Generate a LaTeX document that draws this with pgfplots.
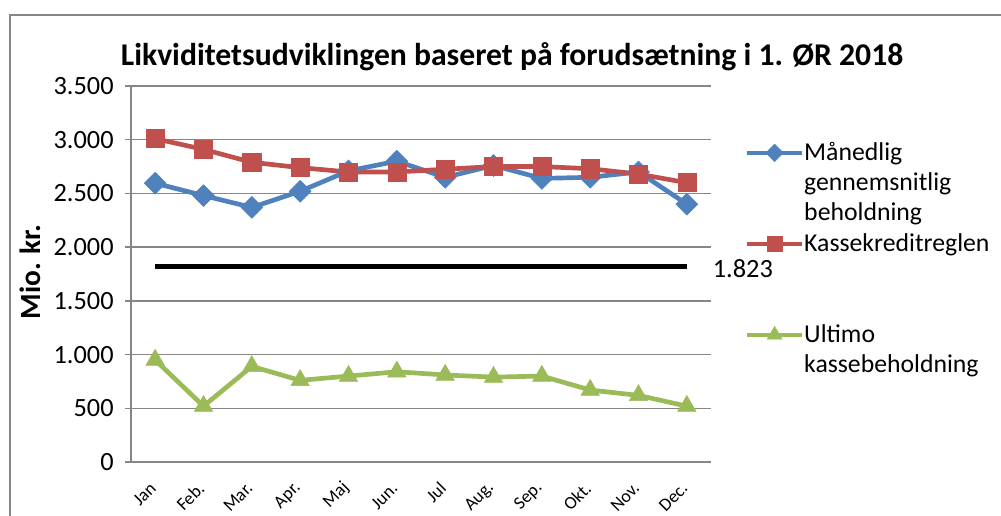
\documentclass[border=0pt]{standalone}
\usepackage{pgfplots}
\pgfplotsset{compat=1.18}
\usepackage{fontspec}
\setmainfont{Carlito}
\definecolor{sblue}{HTML}{4F81BD}
\definecolor{sred}{HTML}{C0504D}
\definecolor{sgreen}{HTML}{9BBB59}
\definecolor{gridgray}{HTML}{868686}
\begin{document}
\begin{tikzpicture}
\path[use as bounding box] (0,0) rectangle (750.75pt,-387pt);
\draw[gridgray, line width=1.2pt] (7.5pt,-390pt) -- (7.5pt,-11.25pt) -- (755pt,-11.25pt);
\node[font=\fontsize{23.75}{26}\selectfont\bfseries] at (384pt,-42.75pt) {Likviditetsudviklingen baseret på forudsætning i 1. ØR 2018};
\node[font=\fontsize{22}{24}\selectfont\bfseries, rotate=90] at (22.5pt,-204pt) {Mio. kr.};
\begin{axis}[
  at={(98.25pt,-346.5pt)}, anchor=south west,
  scale only axis, width=435pt, height=282pt,
  xmin=-0.5, xmax=11.5, ymin=0, ymax=3500, clip=false,
  ytick distance=500, scaled y ticks=false,
  xtick={0,...,11},
  xticklabels={Jan,Feb.,Mar.,Apr.,Maj,Jun.,Jul,Aug.,Sep.,Okt.,Nov.,Dec.},
  axis lines*=left,
  axis line style={gridgray, line width=1pt},
  ymajorgrids, grid style={gridgray, line width=1pt},
  tick align=outside, major tick length=4.5pt,
  y tick style={gridgray, line width=1pt},
  x tick style={draw=none},
  /pgf/number format/.cd, 1000 sep={.}, assume math mode=true, /pgfplots/.cd,
  y tick label style={font=\fontsize{19.75}{22}\selectfont, xshift=-5pt},
  x tick label style={font=\fontsize{13.5}{15}\selectfont, xshift=-1.5pt, yshift=-13pt, rotate=45, anchor=east, inner sep=0pt},
  legend image code/.code={\draw[mark repeat=2,mark phase=2, every mark/.append style={scale=0.8}] plot coordinates {(0pt,5.5pt) (20.5pt,5.5pt) (41pt,5.5pt)};},
  legend style={draw=none, fill=none, at={(1.058,0.86)}, anchor=north west, inner sep=0pt,
    nodes={font=\fontsize{19.3}{22.75}\selectfont, inner sep=0pt, text height=16pt, text depth=6.75pt}, row sep=0pt, column sep=0pt,
    cells={anchor=base west}},
]
\addplot[sblue, line width=3.5pt, mark=square*, mark size=5.8pt, mark options={rotate=45, solid, line width=0.4pt}]
  coordinates {(0,2595) (1,2480) (2,2370) (3,2520) (4,2710) (5,2800) (6,2650) (7,2760) (8,2640) (9,2650) (10,2700) (11,2400)};
\addlegendentry{Månedlig}
\addlegendimage{empty legend}\addlegendentry{gennemsnitlig}
\addlegendimage{empty legend}\addlegendentry{beholdning}
\addplot[sred, line width=3.5pt, mark=square*, mark size=6.8pt, mark options={solid, line width=0.4pt}]
  coordinates {(0,3010) (1,2910) (2,2790) (3,2740) (4,2700) (5,2700) (6,2725) (7,2750) (8,2750) (9,2730) (10,2680) (11,2600)};
\addlegendentry{Kassekreditreglen}
\addlegendimage{empty legend}\addlegendentry{\mbox{}}
\addlegendimage{empty legend}\addlegendentry{\mbox{}}
\addplot[black, line width=3.75pt, forget plot] coordinates {(0,1823) (11,1823)};
\addplot[sgreen, line width=3.5pt, mark=triangle*, mark size=8pt, mark options={solid, line width=0.4pt}]
  coordinates {(0,950) (1,520) (2,890) (3,760) (4,800) (5,840) (6,810) (7,790) (8,800) (9,670) (10,620) (11,520)};
\addlegendentry{Ultimo}
\addlegendimage{empty legend}\addlegendentry{kassebeholdning}
\node[anchor=west, font=\fontsize{19.75}{22}\selectfont] at (axis cs:11,1823) [xshift=16pt, yshift=-1.5pt] {1.823};
\end{axis}
\end{tikzpicture}
\end{document}
